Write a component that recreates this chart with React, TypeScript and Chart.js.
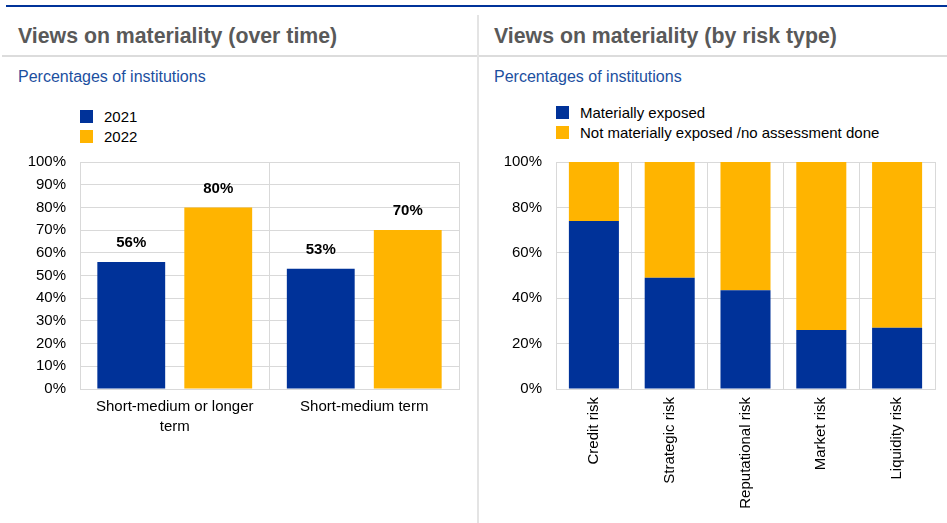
import React, { useEffect, useRef } from "react";
import { Chart, registerables } from "chart.js";

Chart.register(...registerables);

const FONT = "'Liberation Sans', Arial, sans-serif";
const BLUE = "#003299";
const YELLOW = "#FFB400";
const GRID = "#d9d9d9";

// Left chart data
const timeCategories: (string | string[])[] = [["Short-medium or longer", "term"], "Short-medium term"];
const series2021 = [56, 53];
const series2022 = [80, 70];
const timeSeriesNames = ["2021", "2022"];

// Right chart data
const riskCategories = ["Credit risk", "Strategic risk", "Reputational risk", "Market risk", "Liquidity risk"];
const materiallyExposed = [74, 49, 43.5, 26, 27];
const notMateriallyExposed = [26, 51, 56.5, 74, 73];
const riskSeriesNames = ["Materially exposed", "Not materially exposed /no assessment done"];

const dataLabelPlugin = {
  id: "dataLabels",
  afterDatasetsDraw(chart: any) {
    const ctx = chart.ctx;
    ctx.save();
    ctx.font = `bold 15px ${FONT}`;
    ctx.fillStyle = "#000000";
    ctx.textAlign = "center";
    ctx.textBaseline = "middle";
    chart.data.datasets.forEach((ds: any, i: number) => {
      const meta = chart.getDatasetMeta(i);
      meta.data.forEach((el: any, j: number) => {
        ctx.fillText(`${ds.data[j]}%`, el.x, el.y - 19);
      });
    });
    ctx.restore();
  },
};

function LeftChart() {
  const ref = useRef<HTMLCanvasElement>(null);
  useEffect(() => {
    const chart = new Chart(ref.current!, {
      type: "bar",
      data: {
        labels: timeCategories as any,
        datasets: [
          { label: timeSeriesNames[0], data: series2021, backgroundColor: BLUE, categoryPercentage: 0.918, barPercentage: 0.78 },
          { label: timeSeriesNames[1], data: series2022, backgroundColor: YELLOW, categoryPercentage: 0.918, barPercentage: 0.78 },
        ],
      },
      options: {
        responsive: false,
        animation: false,
        devicePixelRatio: 1,
        layout: { padding: { top: 0, right: 19, left: 0, bottom: 0 } },
        plugins: { legend: { display: false }, tooltip: { enabled: false } },
        scales: {
          x: {
            grid: { color: GRID, drawTicks: false, offset: true },
            border: { color: GRID },
            ticks: { color: "#000", font: { family: FONT, size: 15, lineHeight: 1.33 }, padding: 8, maxRotation: 0, autoSkip: false },
            afterFit: (s: any) => { s.height = 61; },
          },
          y: {
            min: 0,
            max: 100,
            grid: { color: GRID, drawTicks: false },
            border: { color: GRID },
            ticks: { stepSize: 10, color: "#000", font: { family: FONT, size: 15 }, padding: 14, callback: (v: any) => `${v}%` },
            afterFit: (s: any) => { s.width = 80; },
          },
        },
      },
      plugins: [dataLabelPlugin],
    } as any);
    return () => chart.destroy();
  }, []);
  return <canvas ref={ref} width={478} height={311} style={{ position: "absolute", left: 0, top: 139, width: 478, height: 311 }} />;
}

function RightChart() {
  const ref = useRef<HTMLCanvasElement>(null);
  useEffect(() => {
    const chart = new Chart(ref.current!, {
      type: "bar",
      data: {
        labels: riskCategories,
        datasets: [
          { label: riskSeriesNames[0], data: materiallyExposed, backgroundColor: BLUE, categoryPercentage: 1, barPercentage: 0.66 },
          { label: riskSeriesNames[1], data: notMateriallyExposed, backgroundColor: YELLOW, categoryPercentage: 1, barPercentage: 0.66 },
        ],
      },
      options: {
        responsive: false,
        animation: false,
        devicePixelRatio: 1,
        layout: { padding: { top: 0, right: 12, left: 0, bottom: 0 } },
        plugins: { legend: { display: false }, tooltip: { enabled: false } },
        scales: {
          x: {
            stacked: true,
            grid: { color: GRID, drawTicks: false, offset: true },
            border: { color: GRID },
            ticks: { color: "#000", font: { family: FONT, size: 15 }, padding: 8, minRotation: 90, maxRotation: 90, autoSkip: false },
            afterFit: (s: any) => { s.height = 134; },
          },
          y: {
            stacked: true,
            min: 0,
            max: 100,
            grid: { color: GRID, drawTicks: false },
            border: { color: GRID },
            ticks: { stepSize: 20, color: "#000", font: { family: FONT, size: 15 }, padding: 14, callback: (v: any) => `${v}%` },
            afterFit: (s: any) => { s.width = 78; },
          },
        },
      },
    } as any);
    return () => chart.destroy();
  }, []);
  return <canvas ref={ref} width={469} height={384} style={{ position: "absolute", left: 478, top: 139, width: 469, height: 384 }} />;
}

function LegendItem({ color, label, x, y }: { color: string; label: string; x: number; y: number }) {
  return (
    <>
      <div style={{ position: "absolute", left: x, top: y, width: 13, height: 13, background: color }} />
      <div style={{ position: "absolute", left: x + 24, top: y - 3, fontSize: 15, lineHeight: "19px", color: "#000", whiteSpace: "nowrap" }}>{label}</div>
    </>
  );
}

export default function App() {
  const title: React.CSSProperties = { position: "absolute", top: 22, fontSize: 21.3, fontWeight: "bold", color: "#595959", whiteSpace: "nowrap", lineHeight: "28px" };
  const sub: React.CSSProperties = { position: "absolute", top: 67, fontSize: 16, color: "#1c4fa0", whiteSpace: "nowrap", lineHeight: "20px" };
  return (
    <div style={{ position: "fixed", left: 0, top: 0, width: 947, height: 523, background: "#fff", fontFamily: FONT, overflow: "hidden" }}>
      <div style={{ position: "absolute", left: 6, top: 5, width: 941, height: 2, background: BLUE }} />
      <div style={{ position: "absolute", left: 2, top: 55, width: 945, height: 2, background: "#dcdcdc" }} />
      <div style={{ position: "absolute", left: 477, top: 15, width: 2, height: 508, background: "#e4e4e4" }} />
      <div style={{ ...title, left: 18 }}>Views on materiality (over time)</div>
      <div style={{ ...title, left: 494 }}>Views on materiality (by risk type)</div>
      <div style={{ ...sub, left: 18 }}>Percentages of institutions</div>
      <div style={{ ...sub, left: 494 }}>Percentages of institutions</div>
      <LegendItem color={BLUE} label={timeSeriesNames[0]} x={80} y={110} />
      <LegendItem color={YELLOW} label={timeSeriesNames[1]} x={80} y={130} />
      <LegendItem color={BLUE} label={riskSeriesNames[0]} x={556} y={106} />
      <LegendItem color={YELLOW} label={riskSeriesNames[1]} x={556} y={126} />
      <LeftChart />
      <RightChart />
    </div>
  );
}
